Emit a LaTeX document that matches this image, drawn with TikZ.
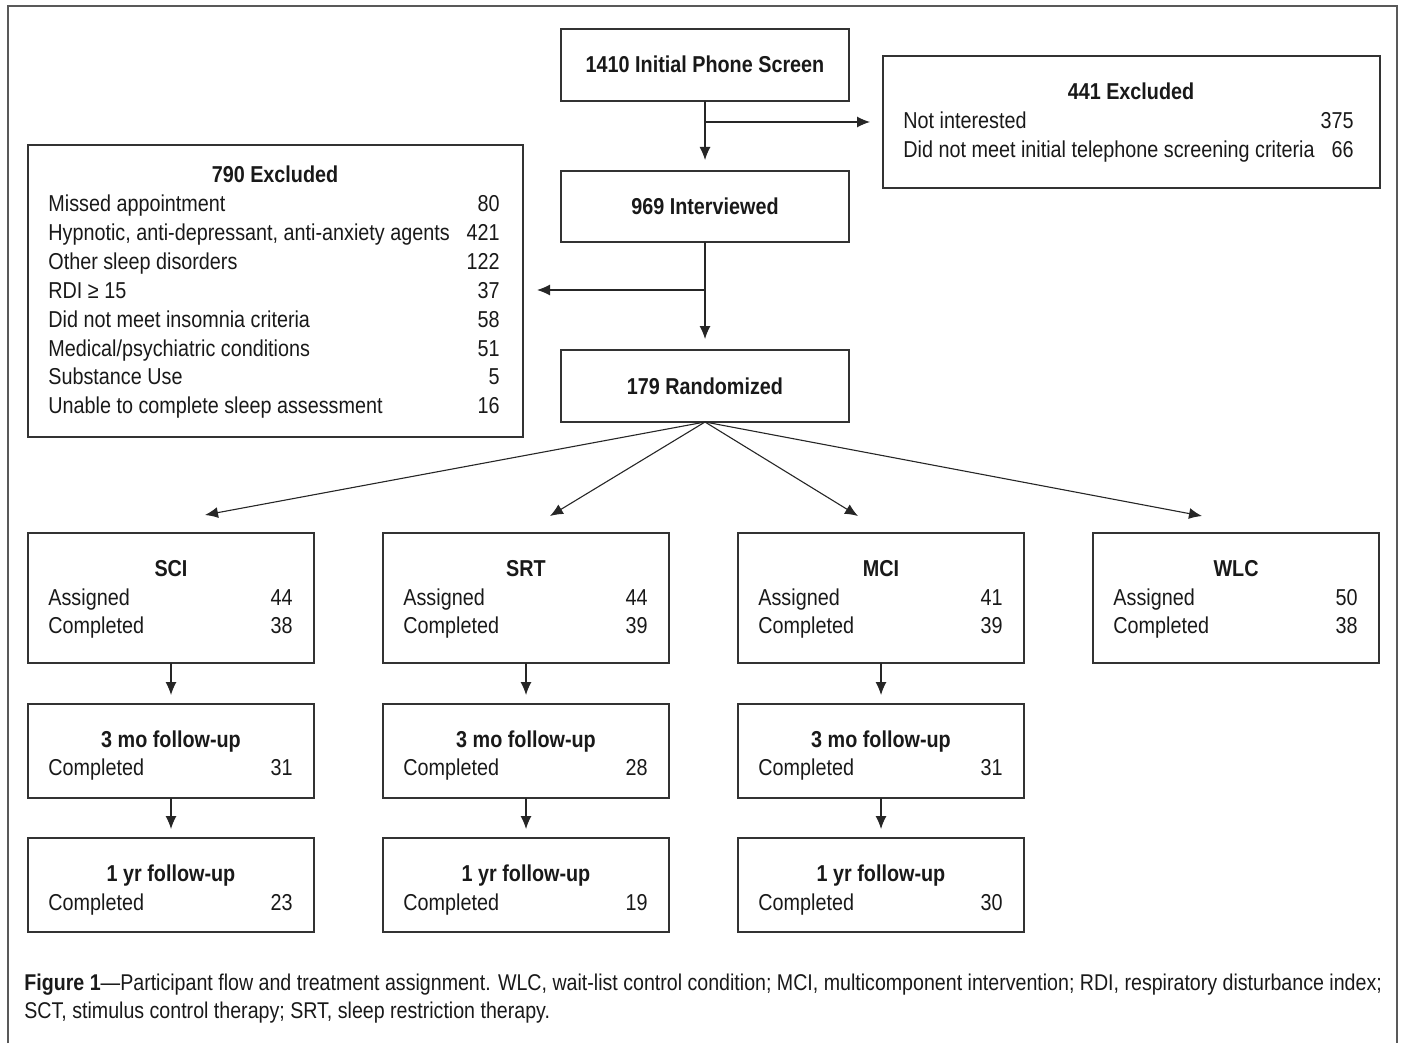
\documentclass[tikz,border=0pt]{standalone}
\usepackage{fontspec}
\setmainfont{Liberation Sans}[FakeStretch=0.86]
\usetikzlibrary{arrows.meta,fit}
\begin{document}
\begin{tikzpicture}[x=0.5pt,y=-0.5pt,
  font=\fontsize{11.5}{13}\selectfont,
  box/.style={draw=black!80, line width=0.65pt, inner sep=0pt, outer sep=0pt},
  arr/.style={-{Latex[length=6.5pt,width=5.5pt]}, line width=0.55pt, draw=black!85},
  ttl/.style={font=\fontsize{11.5}{13}\selectfont\bfseries, anchor=base, inner sep=0pt, text=black!90},
  lt/.style={anchor=base west, inner sep=0pt, text=black!90},
  rt/.style={anchor=base east, inner sep=0pt, text=black!90},
  captxt/.style={anchor=base west, inner sep=0pt, font=\fontsize{11.4}{13}\selectfont, text=black!90}]
\useasboundingbox (0,0) rectangle (1401,1043);
% outer frame
\draw[black!65, line width=1.4pt] (8,1043) -- (8,6) -- (1397,6) -- (1397,1043);

% boxes
\node[box, fit={(561,29) (849,101)}] (phone) {};
\node[box, fit={(883,56) (1380,188)}] (excl1) {};
\node[box, fit={(28,145) (523,437)}] (excl2) {};
\node[box, fit={(561,171) (849,242)}] (inter) {};
\node[box, fit={(561,350) (849,422)}] (rand) {};
\foreach \n/\x in {sci/28, srt/383, mci/738, wlc/1093}{
  \node[box, fit={(\x,533) (\x+286,663)}] (\n) {};
}
\foreach \n/\x in {sci/28, srt/383, mci/738}{
  \node[box, fit={(\x,704) (\x+286,798)}] (\n3) {};
  \node[box, fit={(\x,838) (\x+286,932)}] (\n1) {};
}

% texts
\node[ttl] (tphone) at (705,73) {1410 Initial Phone Screen};
\node[ttl] (tinter) at (705,214) {969 Interviewed};
\node[ttl] (trand) at (705,394) {179 Randomized};

\node[ttl] (te1) at (1131,100) {441 Excluded};
\node[lt] at (903,129) {Not interested};
\node[rt] at (1354,129) {375};
\node[lt] at (903,158) {Did not meet initial telephone screening criteria};
\node[rt] at (1354,158) {66};

\node[ttl] (te2) at (275,183) {790 Excluded};
\foreach \t/\v [count=\i from 0] in {Missed appointment/80,
  {Hypnotic, anti-depressant, anti-anxiety agents}/421,
  Other sleep disorders/122,
  RDI ≥ 15/37,
  Did not meet insomnia criteria/58,
  {Medical/psychiatric conditions}/51,
  Substance Use/5,
  Unable to complete sleep assessment/16}{
  \node[lt] at (48,212+28.8*\i) {\t};
  \node[rt] at (500,212+28.8*\i) {\v};
}

\foreach \x/\name/\a/\c in {28/SCI/44/38, 383/SRT/44/39, 738/MCI/41/39, 1093/WLC/50/38}{
  \node[ttl] at (\x+143,576) {\name};
  \node[lt] at (\x+20,605) {Assigned};
  \node[rt] at (\x+265,605) {\a};
  \node[lt] at (\x+20,633) {Completed};
  \node[rt] at (\x+265,633) {\c};
}
\foreach \x/\m/\y in {28/31/23, 383/28/19, 738/31/30}{
  \node[ttl] at (\x+143,747) {3 mo follow-up};
  \node[lt] at (\x+20,775) {Completed};
  \node[rt] at (\x+265,775) {\m};
  \node[ttl] at (\x+143,881) {1 yr follow-up};
  \node[lt] at (\x+20,910) {Completed};
  \node[rt] at (\x+265,910) {\y};
}

% connectors
\draw[arr, shorten >=5.5pt] (phone.south) -- (inter.north);
\coordinate (b1) at (705,122);
\draw[arr, shorten >=6.5pt] (b1) -- (excl1.west |- b1);
\draw[arr, shorten >=5.5pt] (inter.south) -- (rand.north);
\coordinate (b2) at (705,290);
\draw[arr, shorten >=7pt] (b2) -- (excl2.east |- b2);

\coordinate (f1) at (205,515);
\coordinate (f2) at (550,516);
\coordinate (f3) at (858,516);
\coordinate (f4) at (1202,516);
\foreach \f in {f1,f2,f3,f4}{\draw[arr] (rand.south) -- (\f);}

\foreach \n in {sci,srt,mci}{
  \draw[arr, shorten >=4.5pt] (\n.south) -- (\n3.north);
  \draw[arr, shorten >=4.5pt] (\n3.south) -- (\n1.north);
}

% caption
\node[captxt] (cap1) at (24,990) {\textbf{Figure 1}—Participant flow and treatment assignment. WLC, wait-list control condition; MCI, multicomponent intervention; RDI, respiratory disturbance index;};
\node[captxt] (cap2) at (24,1018) {SCT, stimulus control therapy; SRT, sleep restriction therapy.};
\end{tikzpicture}
\end{document}
